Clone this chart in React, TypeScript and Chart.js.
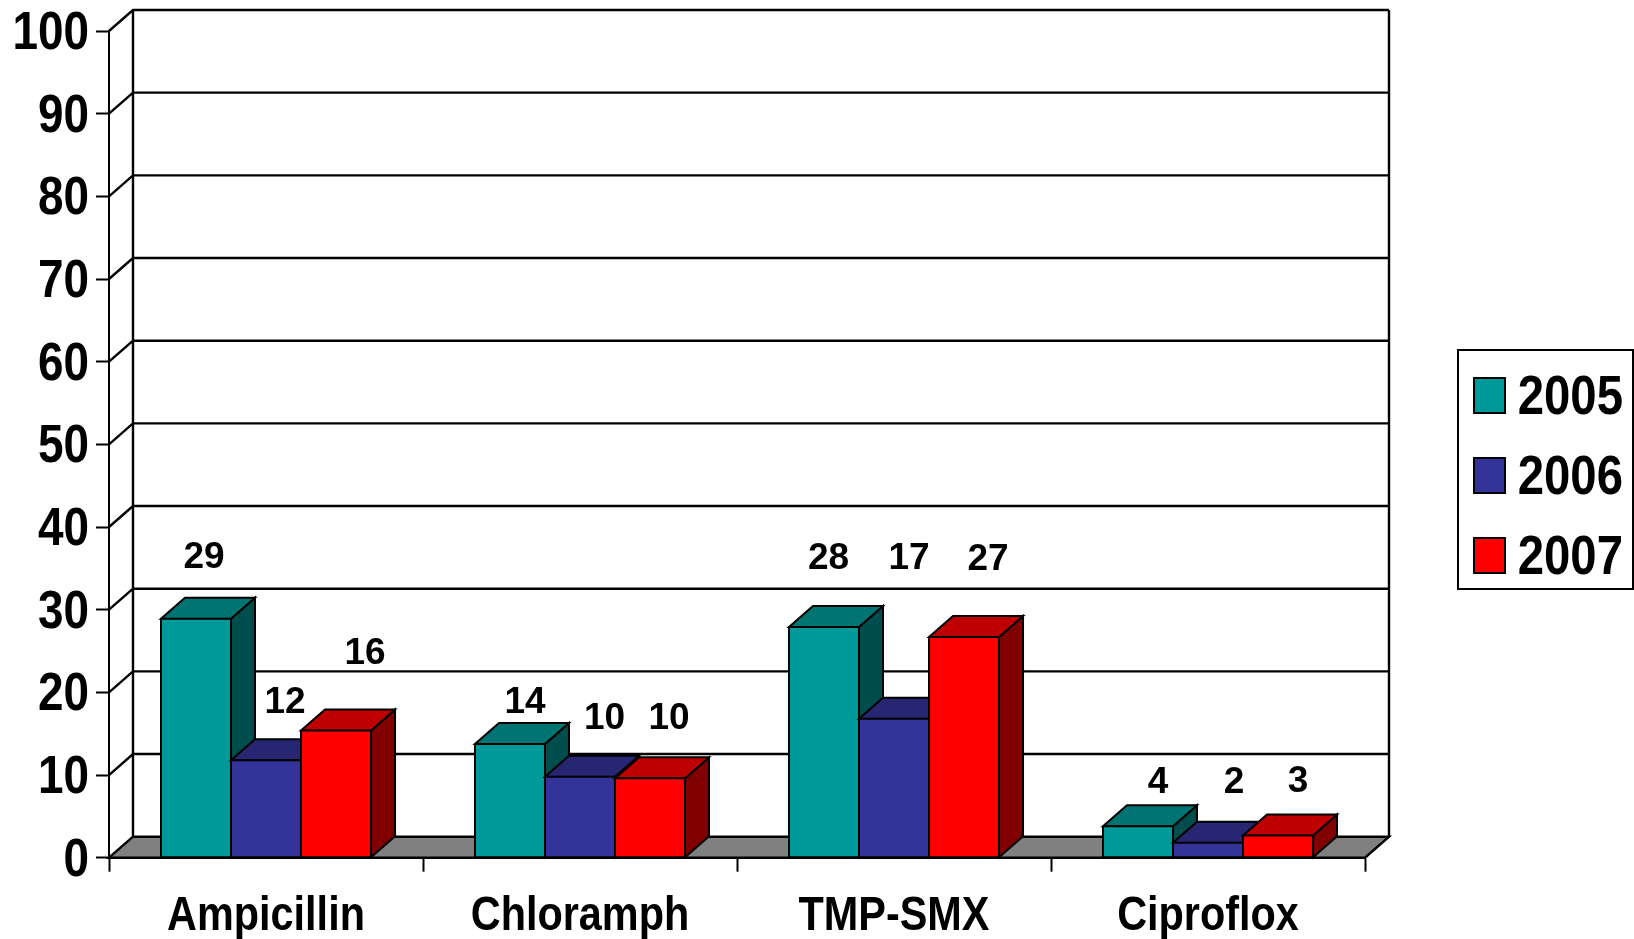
import React, { useEffect, useRef } from "react";
import { Chart, registerables } from "chart.js";

Chart.register(...registerables);

const categories = ["Ampicillin", "Chloramph", "TMP-SMX", "Ciproflox"];
const seriesNames = ["2005", "2006", "2007"];
// heights as drawn in the picture
const values2005 = [28.9, 13.75, 27.9, 3.8];
const values2006 = [11.8, 9.8, 16.8, 1.8];
const values2007 = [15.4, 9.6, 26.7, 2.7];
// the printed labels
const labels2005 = ["29", "14", "28", "4"];
const labels2006 = ["12", "10", "17", "2"];
const labels2007 = ["16", "10", "27", "3"];
const yTicks = { min: 0, max: 100, stepSize: 10 };

const fronts = ["#009999", "#333399", "#FF0000"];
const tops = ["#007373", "#262673", "#BF0000"];
const sides = ["#004D4D", "#1A1A4D", "#800000"];

// hand placed label offsets from the bar's top centre
const labelDx = [[8, 15, 4.5, 20], [19, 24.5, 15, 26], [29, 19, 24, 20]];
const labelDy = [[-60.5, -41.5, -68, -43.5], [-57.5, -57.5, -160, -60.5], [-76.5, -59.5, -77.5, -53.5]];

const W = 1634;
const H = 939;
const DX = 24;
const DY = 21;
const FAMILY = '"Liberation Sans", sans-serif';
const SQUEEZE: Record<string, number> = { "49": 0.845, "54": 0.85, "56": 0.845 };
const NUDGE: Record<string, number> = { "49": 0, "54": 3, "56": 3 };
const LEGEND_SHIFT = 9.4;

function condense(ctx: any) {
  const orig = ctx.fillText.bind(ctx);
  ctx.fillText = (t: string, x: number, y: number) => {
    const m = /(\d+)px/.exec(ctx.font);
    const sx = m ? SQUEEZE[m[1]] : undefined;
    if (!sx) {
      orig(t, x, y);
      return;
    }
    ctx.save();
    ctx.translate(x, y + NUDGE[m![1]]);
    ctx.scale(sx, 1);
    orig(t, 0, 0);
    ctx.restore();
  };
}

function drawFaces(ctx: any, bar: any, i: number) {
  const x0 = bar.x - bar.width / 2;
  const x1 = bar.x + bar.width / 2;
  const t = bar.y;
  const b = bar.base;
  ctx.lineWidth = 2;
  ctx.strokeStyle = "#000";
  ctx.fillStyle = sides[i];
  ctx.beginPath();
  ctx.moveTo(x1, t);
  ctx.lineTo(x1 + DX, t - DY);
  ctx.lineTo(x1 + DX, b - DY);
  ctx.lineTo(x1, b);
  ctx.closePath();
  ctx.fill();
  ctx.stroke();
  ctx.fillStyle = tops[i];
  ctx.beginPath();
  ctx.moveTo(x0, t);
  ctx.lineTo(x0 + DX, t - DY);
  ctx.lineTo(x1 + DX, t - DY);
  ctx.lineTo(x1, t);
  ctx.closePath();
  ctx.fill();
  ctx.stroke();
}

const depthPlugin = {
  id: "depth",
  beforeLayout(chart: any) {
    const lg = chart.legend;
    if (lg && !lg.__wrapped) {
      const f = lg.fit;
      lg.fit = function () {
        f.call(this);
        this.width = 269;
      };
      lg.__wrapped = true;
    }
  },
  afterLayout(chart: any) {
    const lg = chart.legend;
    if (lg) {
      lg.left = 1450;
      lg.right = 1623;
      lg.top -= LEGEND_SHIFT;
      lg.bottom -= LEGEND_SHIFT;
    }
  },
  beforeDatasetsDraw(chart: any) {
    const { ctx, chartArea: a, scales } = chart;
    const y = scales.y;
    ctx.save();
    ctx.lineWidth = 2.4;
    ctx.strokeStyle = "#000";
    ctx.fillStyle = "#808080";
    ctx.beginPath();
    ctx.moveTo(a.left, a.bottom);
    ctx.lineTo(a.left + DX, a.bottom - DY);
    ctx.lineTo(a.right + DX, a.bottom - DY);
    ctx.lineTo(a.right, a.bottom);
    ctx.closePath();
    ctx.fill();
    ctx.stroke();
    ctx.beginPath();
    for (let v = yTicks.min + yTicks.stepSize; v <= yTicks.max; v += yTicks.stepSize) {
      const p = y.getPixelForValue(v);
      ctx.moveTo(a.left, p);
      ctx.lineTo(a.left + DX, p - DY);
      ctx.lineTo(a.right + DX, p - DY);
    }
    ctx.moveTo(a.left + DX, a.top - DY);
    ctx.lineTo(a.left + DX, a.bottom - DY);
    ctx.moveTo(a.right + DX, a.top - DY);
    ctx.lineTo(a.right + DX, a.bottom - DY);
    ctx.stroke();
    ctx.restore();
  },
  // the default pass paints the last dataset first; the bars must overlap left to right
  beforeDatasetDraw() {
    return false;
  },
  afterDatasetsDraw(chart: any) {
    const { ctx } = chart;
    const printed = [labels2005, labels2006, labels2007];
    chart.data.datasets.forEach((_: any, i: number) => {
      const meta = chart.getDatasetMeta(i);
      ctx.save();
      meta.data.forEach((bar: any) => drawFaces(ctx, bar, i));
      ctx.restore();
      meta.controller.draw();
    });
    ctx.save();
    ctx.fillStyle = "#000";
    ctx.font = `bold 37px ${FAMILY}`;
    ctx.textAlign = "center";
    ctx.textBaseline = "middle";
    chart.data.datasets.forEach((_: any, i: number) => {
      chart.getDatasetMeta(i).data.forEach((bar: any, j: number) => {
        ctx.fillText(printed[i][j], bar.x + labelDx[i][j], bar.y + labelDy[i][j]);
      });
    });
    ctx.restore();
  },
  afterDraw(chart: any) {
    const { ctx } = chart;
    ctx.save();
    ctx.lineWidth = 2;
    ctx.strokeStyle = "#000";
    ctx.strokeRect(1458, 350, 175, 239);
    ctx.restore();
  },
};

export default function App() {
  const ref = useRef<HTMLCanvasElement>(null);
  useEffect(() => {
    const seriesValues = [values2005, values2006, values2007];
    condense(ref.current!.getContext("2d"));
    const chart = new Chart(ref.current!, {
      type: "bar",
      data: {
        labels: categories,
        datasets: seriesNames.map((name, i) => ({
          label: name,
          data: seriesValues[i],
          backgroundColor: fronts[i],
          borderColor: "#000",
          borderWidth: 2,
          borderSkipped: false,
          inflateAmount: 1,
          categoryPercentage: 0.669,
          barPercentage: 1,
        })),
      },
      plugins: [depthPlugin],
      options: {
        responsive: false,
        animation: false,
        devicePixelRatio: 1,
        layout: { padding: { top: 31, left: 0, right: 0, bottom: 0 } },
        plugins: {
          title: { display: false },
          tooltip: { enabled: false },
          legend: {
            display: true,
            position: "right",
            align: "center",
            labels: {
              boxWidth: 31,
              boxHeight: 35,
              padding: 24,
              color: "#000",
              textAlign: "right",
              font: { family: FAMILY, size: 56, weight: "bold" },
            },
          },
        },
        scales: {
          x: {
            offset: true,
            grid: {
              offset: true,
              drawOnChartArea: false,
              drawTicks: true,
              tickLength: 14,
              tickColor: "#000",
              tickWidth: 2,
            },
            border: { display: true, color: "#000", width: 2 },
            ticks: {
              color: "#000",
              padding: 15,
              autoSkip: false,
              maxRotation: 0,
              font: { family: FAMILY, size: 49, weight: "bold" },
            },
            afterFit(s: any) {
              s.height = H - 857.7;
              s.paddingLeft = 0;
              s.paddingRight = 0;
            },
          },
          y: {
            min: yTicks.min,
            max: yTicks.max,
            grid: {
              drawOnChartArea: false,
              drawTicks: true,
              tickLength: 13,
              tickColor: "#000",
              tickWidth: 2,
            },
            border: { display: true, color: "#000", width: 2 },
            ticks: {
              stepSize: yTicks.stepSize,
              color: "#000",
              padding: 7,
              autoSkip: false,
              font: { family: FAMILY, size: 54, weight: "bold" },
            },
            afterFit(s: any) {
              s.width = 109;
              s.paddingTop = 0;
              s.paddingBottom = 0;
            },
          },
        },
      },
    } as any);
    return () => chart.destroy();
  }, []);
  return (
    <div style={{ position: "fixed", left: 0, top: 0, width: W, height: H, background: "#fff" }}>
      <canvas ref={ref} width={W} height={H} style={{ display: "block" }} />
    </div>
  );
}
